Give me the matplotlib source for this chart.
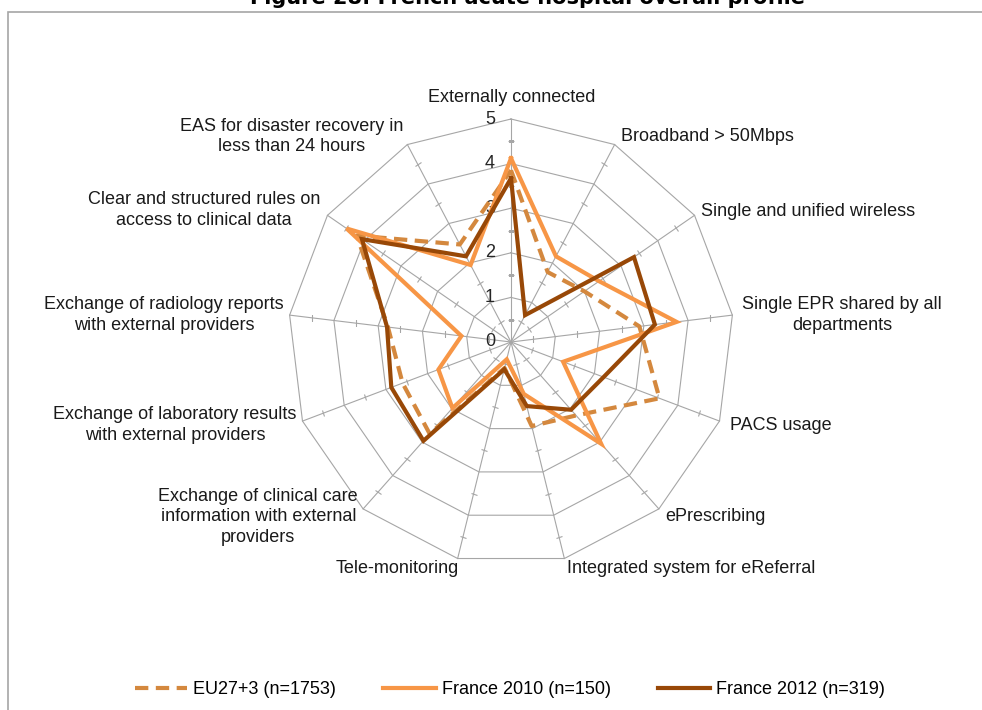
import numpy as np
import matplotlib
matplotlib.use("Agg")
import matplotlib.pyplot as plt
from matplotlib.lines import Line2D
from matplotlib.markers import MarkerStyle
from matplotlib.patches import Rectangle
from matplotlib.transforms import Affine2D

plt.rcParams['font.family'] = ['Liberation Sans', 'DejaVu Sans']

# Data
categories = [
    "Externally connected",
    "Broadband > 50Mbps",
    "Single and unified wireless",
    "Single EPR shared by all\ndepartments",
    "PACS usage",
    "ePrescribing",
    "Integrated system for eReferral",
    "Tele-monitoring",
    "Exchange of clinical care\ninformation with external\nproviders",
    "Exchange of laboratory results\nwith external providers",
    "Exchange of radiology reports\nwith external providers",
    "Clear and structured rules on\naccess to clinical data",
    "EAS for disaster recovery in\nless than 24 hours",
]
eu27 = [3.85, 1.77, 2.0, 2.9, 3.56, 2.2, 1.94, 0.6, 2.75, 2.6, 2.78, 4.2, 2.47]
france_2010 = [4.12, 2.17, 2.4, 3.74, 1.25, 3.05, 1.2, 0.4, 1.98, 1.74, 1.12, 4.48, 1.95]
france_2012 = [3.67, 0.68, 3.35, 3.25, 2.22, 2.03, 1.48, 0.63, 2.96, 2.87, 2.8, 4.06, 2.17]
series_names = ["EU27+3 (n=1753)", "France 2010 (n=150)", "France 2012 (n=319)"]
r_ticks = [0, 1, 2, 3, 4, 5]

# label offsets from the outer vertex (pixels) and alignment
label_offsets = [(1, 21), (6, 8), (6, 4), (10, 0), (10, -4), (6, -8), (3, -10),
                 (1, -10), (-5, -8), (-6, -4), (-6, 0), (-7, 5), (-4, 8)]
label_ha = ['center', 'left', 'left', 'left', 'left', 'left', 'left',
            'right', 'right', 'right', 'right', 'right', 'right']

W, H = 982, 710
fig = plt.figure(figsize=(W / 100, H / 100), dpi=100)

# chart border
fig.patches.append(Rectangle((8 / W, -0.1), 1.2, (1 - 12 / H) + 0.1,
                             transform=fig.transFigure, fill=False,
                             edgecolor='#A6A6A6', lw=1.2))
fig.text(528 / W, 1 - 4 / H, "Figure 28: French acute hospital overall profile",
         ha='center', va='baseline', fontsize=15, fontweight='bold',
         family='DejaVu Sans')

cx, cy, R = 511, 342, 223
ax = fig.add_axes([(cx - R) / W, (H - cy - R) / H, 2 * R / W, 2 * R / H],
                  projection='polar')
ax.set_theta_offset(np.pi / 2)
ax.set_theta_direction(-1)
ax.set_ylim(0, 5)
ax.grid(False)
ax.set_xticks([])
ax.set_yticks([])
ax.spines['polar'].set_visible(False)
ax.patch.set_visible(False)

n = len(categories)
angles = np.arange(n) * 2 * np.pi / n
closed = np.append(angles, angles[0])

grid_c = '#A6A6A6'
for r in r_ticks[1:]:
    ax.plot(closed, [r] * (n + 1), color=grid_c, lw=0.8, zorder=1, clip_on=False)
for a in angles:
    ax.plot([a, a], [0, 5], color=grid_c, lw=0.8, zorder=1, clip_on=False)
    m = MarkerStyle('_', transform=Affine2D().rotate_deg(-np.degrees(a)))
    ax.plot([a] * 5, np.arange(0.5, 5, 1.0), ls='none', marker=m,
            markersize=5, color=grid_c, mew=0.8, zorder=1)

for r in r_ticks:
    ax.annotate(str(r), xy=(0, r), xytext=(-16, 0), textcoords='offset pixels',
                ha='right', va='center', fontsize=13, color='#262626')

for a, lab, off, ha in zip(angles, categories, label_offsets, label_ha):
    ax.annotate(lab, xy=(a, 5), xytext=off, textcoords='offset pixels',
                ha=ha, va='center', multialignment='center', fontsize=13,
                color='#1a1a1a', linespacing=1.3, annotation_clip=False)

colors = ['#D4883E', '#F79646', '#984807']
styles = [dict(dashes=(3.2, 1.8)), dict(), dict()]
for vals, c, st in zip([eu27, france_2010, france_2012], colors, styles):
    ax.plot(closed, vals + vals[:1], color=c, lw=3.0, zorder=3,
            solid_joinstyle='miter', clip_on=False, **st)

handles = [Line2D([], [], color=c, lw=3.0, **st) for c, st in zip(colors, styles)]
fig.legend(handles, series_names, loc='center', bbox_to_anchor=(510 / W, 1 - 690 / H),
           ncol=3, frameon=False, fontsize=13, handlelength=2.9,
           handletextpad=0.35, columnspacing=2.6)

fig.savefig('out.png', dpi=100)
